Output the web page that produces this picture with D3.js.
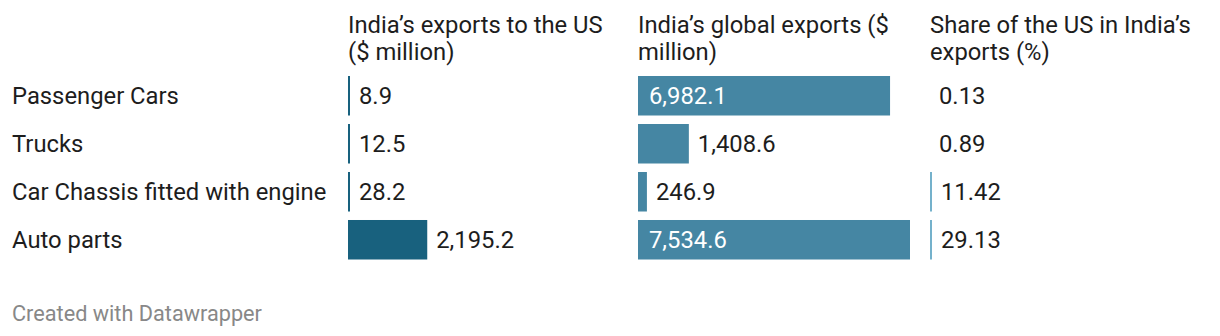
<!DOCTYPE html>
<html><head><meta charset="utf-8">
<script src="https://cdn.jsdelivr.net/npm/d3@7"></script>
<style>
body{margin:0;background:#fff;font-family:Roboto,sans-serif;}
</style></head>
<body><svg id="c" width="1220" height="336"></svg>
<script>
const categories = ["Passenger Cars","Trucks","Car Chassis fitted with engine","Auto parts"];
const exportsUS = [8.9, 12.5, 28.2, 2195.2];
const exportsGlobal = [6982.1, 1408.6, 246.9, 7534.6];
const shareUS = [0.13, 0.89, 11.42, 29.13];
const headers = [["India\u2019s exports to the US","($ million)"],["India\u2019s global exports ($","million)"],["Share of the US in India\u2019s","exports (%)"]];
const footer = "Created with Datawrapper";

const svg = d3.select("#c");
const cols = [
  {vals: exportsUS, x0: 348, color: "#18617e", fmt: d3.format(",.1f")},
  {vals: exportsGlobal, x0: 638, color: "#4586a3", fmt: d3.format(",.1f")},
  {vals: shareUS, x0: 930, color: "#74b1cb", fmt: d3.format(".2f")}
];
const x = d3.scaleLinear().domain([0, 7534.6]).range([0, 272]);
const y = d3.scaleBand().domain(categories).range([76, 259.5]).paddingInner(0.177).paddingOuter(0);
const FS = "23.8px";

// headers
cols.forEach((c, i) => {
  const t = svg.append("text").attr("fill", "#1d1d1d").style("font-size", FS);
  headers[i].forEach((line, j) => t.append("tspan").attr("x", c.x0).attr("y", 32.5 + j * 27).text(line));
});

// row labels
svg.selectAll("text.row").data(categories).join("text").attr("class", "row")
  .attr("x", 12).attr("y", d => y(d) + y.bandwidth() / 2 + 8.5)
  .attr("fill", "#1d1d1d").style("font-size", FS).text(d => d);

cols.forEach((c) => {
  const w = v => v >= 1 ? Math.max(2, x(v)) : 0;
  const g = svg.append("g");
  g.selectAll("rect").data(c.vals).join("rect")
    .attr("x", c.x0).attr("y", (d, i) => y(categories[i]))
    .attr("width", d => w(d)).attr("height", y.bandwidth()).attr("fill", c.color);
  g.selectAll("text").data(c.vals).join("text")
    .attr("x", d => w(d) > 120 ? c.x0 + 11 : c.x0 + w(d) + 9)
    .attr("y", (d, i) => y(categories[i]) + y.bandwidth() / 2 + 8.5)
    .attr("fill", d => w(d) > 120 ? "#fff" : "#1d1d1d")
    .style("font-size", FS).text(d => c.fmt(d));
});

svg.append("text").attr("x", 12).attr("y", 320.5).attr("fill", "#888")
  .style("font-size", "21.7px").text(footer);
</script></body></html>
